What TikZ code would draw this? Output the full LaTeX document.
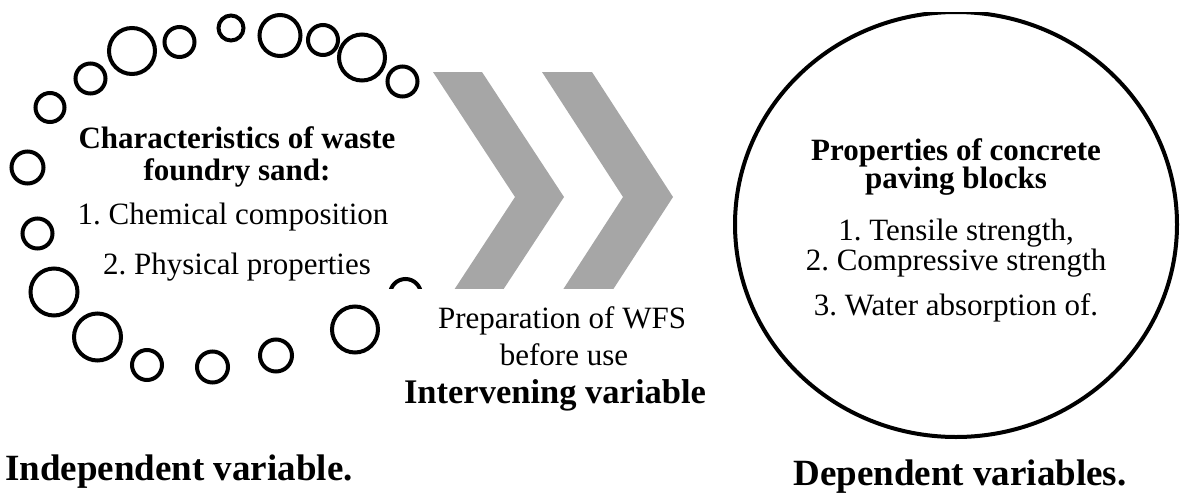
\documentclass[tikz,border=0pt]{standalone}
\usepackage{fontspec}
\setmainfont{Liberation Serif}
\frenchspacing
\definecolor{chev}{RGB}{166,166,166}
\begin{document}
\begin{tikzpicture}[x=1pt,y=-1pt,
  ring/.style={line width=4pt},
  body/.style={font=\fontsize{31}{36}\selectfont, inner sep=0pt, anchor=base},
  head/.style={font=\fontsize{31}{36}\selectfont\bfseries, inner sep=0pt, anchor=base},
  inter/.style={font=\fontsize{34.5}{40}\selectfont\bfseries, inner sep=0pt, anchor=base},
  big/.style={font=\fontsize{37}{42}\selectfont\bfseries, inner sep=0pt, anchor=base},
  chevron/.style={fill=chev, draw=none}]
\useasboundingbox (0,0) rectangle (1183,496);
\begin{scope}
  \clip (0,12) rectangle (1183,496);
  % ring of small circles
  \foreach \cx/\cy/\r in {50/107.5/14.5, 90.5/78.5/15, 132/51/23, 179.5/42/15,
      231/28/12.5, 280/35.5/20.5, 323/40/15, 362/57.5/23, 402.5/81.5/15,
      27.5/167.5/16, 37.5/233.5/15, 54/292/23.5, 97.5/337/23.5, 147/365/15,
      212.5/367/15.5, 276/355.5/16, 355/329.5/23}
    \draw[ring] (\cx,\cy) circle[radius=\r];
  % big circle
  \draw[ring] (956,224.5) ellipse[x radius=221, y radius=212.5];
\end{scope}
\begin{scope}
  \clip (380,0) rectangle (720,288);
  \draw[ring] (405.5,294.5) circle[radius=15.5];
  \fill[chevron] (433,72) -- (482,72) -- (564,197) -- (482,322) -- (433,322) -- (515,197) -- cycle;
  \fill[chevron] (542,72) -- (592,72) -- (673,197) -- (592,322) -- (542,322) -- (623,197) -- cycle;
\end{scope}
% left texts
\node[head] (c1) at (237,148) {Characteristics of waste};
\node[head] (c2) at (237,180) {foundry sand:};
\node[body] (c3) at (233,224) {1. Chemical composition};
\node[body] (c4) at (237,274) {2. Physical properties};
% middle texts
\node[body] (p1) at (562,328) {Preparation of WFS};
\node[body] (p2) at (564,365) {before use};
\node[inter] (p3) at (555,403) {Intervening variable};
% right texts
\node[head] (r1) at (956,160) {Properties of concrete};
\node[head] (r2) at (956,188) {paving blocks};
\node[body] (r3) at (956,240) {1. Tensile strength,};
\node[body] (r4) at (956,270) {2. Compressive strength};
\node[body] (r5) at (956,315) {3. Water absorption of.};
% captions
\node[big] (iv) at (179,480) {Independent variable.};
\node[big] (dv) at (960,485) {Dependent variables.};
\end{tikzpicture}
\end{document}
